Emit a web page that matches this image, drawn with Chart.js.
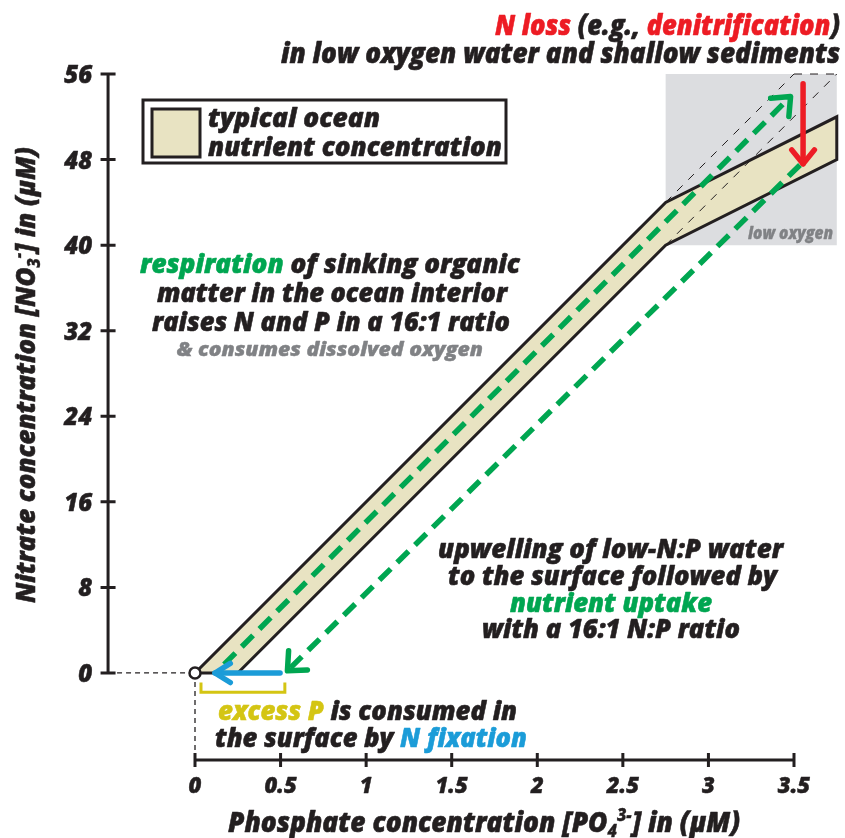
<!DOCTYPE html>
<html>
<head>
<meta charset="utf-8">
<title>Ocean N:P</title>
<script src="https://cdn.jsdelivr.net/npm/chart.js@4.4.1/dist/chart.umd.min.js"></script>
<style>
  html, body { margin: 0; padding: 0; background: #fff; }
  canvas { display: block; }
</style>
</head>
<body>
<canvas id="npChart" width="845" height="838"></canvas>
<script>
// --- values (x = PO4 uM, y = NO3 uM) ---
const xTicks = [0, 0.5, 1, 1.5, 2, 2.5, 3, 3.5];
const yTicks = [0, 8, 16, 24, 32, 40, 48, 56];

// typical ocean band
const bandPO4 = [0, 2.75, 3.75, 3.75, 2.75, 0.25, 0];
const bandNO3 = [0, 44, 52, 48, 40, 0, 0];

// low oxygen box
const lowOxyPO4 = [2.75, 3.75, 3.75, 2.75, 2.75];
const lowOxyNO3 = [40, 40, 56, 56, 40];

// 16:1 lines continuing the band edges
const guideUpperPO4 = [2.75, 3.5];
const guideUpperNO3 = [44, 56];
const guideLowerPO4 = [2.75, 3.75];
const guideLowerNO3 = [40, 56];
const guideTopPO4 = [3.5, 3.75];
const guideTopNO3 = [56, 56];

// process arrows (start, tip)
const respirationPO4 = [0.17, 3.48];
const respirationNO3 = [0.8, 53.9];
const upwellingPO4 = [3.535, 0.54];
const upwellingNO3 = [47.5, 0.2];
const nLossPO4 = [3.553, 3.553];
const nLossNO3 = [55.1, 47.6];
const nFixPO4 = [0.497, 0.117];
const nFixNO3 = [0, 0];

// excess P bracket
const excessPO4 = [0.035, 0.035, 0.525, 0.525];
const excessNO3 = [-0.9, -1.8, -1.8, -0.9];

// where the offset axes sit
const X_AXIS_AT = -8.13;   // NO3 value of the phosphate axis
const Y_AXIS_AT = -0.508;  // PO4 value of the nitrate axis

const INK = '#231f20', GREEN = '#00a651', RED = '#ed1c24', BLUE = '#1b9cd8',
      YELLOW = '#d4c513', GREY = '#808285', BAND = '#e8e3c2', LOWOXY = '#dcdde0';
const FONT = '"Open Sans", "Noto Sans", "DejaVu Sans", sans-serif';
const WEIGHT = 800;
const HEAVY = 0.55; // extra stroke (per 26px) to get closer to the heavy italic of the original

const pts = (xs, ys) => xs.map((x, i) => ({ x, y: ys[i] }));

function lineSet(label, xs, ys, extra) {
  return Object.assign({
    label, data: pts(xs, ys), showLine: true, fill: false,
    pointRadius: 0, borderColor: INK, borderWidth: 1, tension: 0
  }, extra);
}

function heavyText(ctx, t, x, y, color, size) {
  ctx.fillStyle = color;
  ctx.strokeStyle = color;
  ctx.lineWidth = HEAVY * size / 26;
  ctx.lineJoin = 'round';
  ctx.setLineDash([]);
  ctx.fillText(t, x, y);
  ctx.strokeText(t, x, y);
}

// draw one line of mixed-colour text, squeezed to width w
function richLine(ctx, segs, x, y, size, w) {
  let total = 0;
  const parts = segs.map(([t, c, o = {}]) => {
    const s = size * (o.scale || 1);
    ctx.font = `italic ${WEIGHT} ${s}px ${FONT}`;
    const pw = ctx.measureText(t).width;
    total += pw;
    return { t, c, s, pw, dy: o.dy || 0 };
  });
  const k = w ? w / total : 1;
  ctx.save();
  ctx.translate(x, y);
  ctx.scale(k, 1);
  ctx.textAlign = 'left';
  ctx.textBaseline = 'alphabetic';
  let cx = 0;
  parts.forEach(p => {
    ctx.font = `italic ${WEIGHT} ${p.s}px ${FONT}`;
    heavyText(ctx, p.t, cx, p.dy, p.c, p.s);
    cx += p.pw;
  });
  ctx.restore();
}

const notes = [
  { x: 495, y: 35, w: 345, size: 28, segs: [['N loss', RED], [' (e.g., ', INK], ['denitrification', RED], [')', INK]] },
  { x: 281, y: 63, w: 559, size: 28, segs: [['in low oxygen water and shallow sediments', INK]] },
  { x: 140, y: 273, w: 380, size: 26, segs: [['respiration', GREEN], [' of sinking organic', INK]] },
  { x: 157, y: 302, w: 350, size: 26, segs: [['matter in the ocean interior', INK]] },
  { x: 152, y: 331, w: 358, size: 26, segs: [['raises N and P in a 16:1 ratio', INK]] },
  { x: 177, y: 356, w: 306, size: 20, segs: [['& consumes dissolved oxygen', GREY]] },
  { x: 438, y: 558, w: 345, size: 26, segs: [['upwelling of low-N:P water', INK]] },
  { x: 448, y: 585, w: 329, size: 26, segs: [['to the surface followed by', INK]] },
  { x: 510, y: 612, w: 202, size: 26, segs: [['nutrient uptake', GREEN]] },
  { x: 482, y: 638, w: 258, size: 26, segs: [['with a 16:1 N:P ratio', INK]] },
  { x: 218, y: 720, w: 299, size: 26, segs: [['excess P', YELLOW], [' is consumed in', INK]] },
  { x: 215, y: 747, w: 312, size: 26, segs: [['the surface by ', INK], ['N fixation', BLUE]] },
  { x: 748, y: 239, w: 85, size: 17, segs: [['low oxygen', GREY]] }
];

// axes drawn away from the data origin, like the original figure
const offsetAxes = {
  id: 'offsetAxes',
  afterDatasetsDraw(chart) {
    const { ctx, scales: { x, y } } = chart;
    const ay = y.getPixelForValue(X_AXIS_AT);
    const ax = x.getPixelForValue(Y_AXIS_AT);
    ctx.save();
    ctx.setLineDash([]);
    ctx.strokeStyle = INK;
    ctx.lineWidth = 3;

    ctx.beginPath();
    ctx.moveTo(x.getPixelForValue(xTicks[0]) - 1.5, ay);
    ctx.lineTo(x.getPixelForValue(xTicks[xTicks.length - 1]) + 1.5, ay);
    ctx.moveTo(ax, y.getPixelForValue(yTicks[0]) + 1.5);
    ctx.lineTo(ax, y.getPixelForValue(yTicks[yTicks.length - 1]) - 1.5);
    xTicks.forEach(v => {
      const px = x.getPixelForValue(v);
      ctx.moveTo(px, ay - 7);
      ctx.lineTo(px, ay + 7);
    });
    yTicks.forEach(v => {
      const py = y.getPixelForValue(v);
      ctx.moveTo(ax - 7.5, py);
      ctx.lineTo(ax + 7.5, py);
    });
    ctx.stroke();

    ctx.textBaseline = 'alphabetic';
    ctx.font = `italic ${WEIGHT} 22px ${FONT}`;
    ctx.textAlign = 'center';
    xTicks.forEach(v => heavyText(ctx, String(v), x.getPixelForValue(v), ay + 33, INK, 22));
    ctx.font = `italic ${WEIGHT} 24px ${FONT}`;
    ctx.textAlign = 'right';
    yTicks.forEach(v => heavyText(ctx, String(v), ax - 16, y.getPixelForValue(v) + 9, INK, 24));

    // axis titles
    richLine(ctx, [
      ['Phosphate concentration [PO', INK],
      ['4', INK, { scale: 0.62, dy: 5 }],
      ['3-', INK, { scale: 0.62, dy: -11 }],
      ['] in (\u00b5M)', INK]
    ], 228, 832, 28, 512);

    ctx.save();
    ctx.translate(35, 603);
    ctx.rotate(-Math.PI / 2);
    richLine(ctx, [
      ['Nitrate concentration [NO', INK],
      ['3', INK, { scale: 0.62, dy: 5 }],
      ['-', INK, { scale: 0.62, dy: -11 }],
      ['] in (\u00b5M)', INK]
    ], 0, 0, 27, 456);
    ctx.restore();
    ctx.restore();
  }
};

// open chevron heads on the process arrows
const arrowHeads = {
  id: 'arrowHeads',
  afterDatasetsDraw(chart) {
    const ctx = chart.ctx;
    chart.data.datasets.forEach((ds, i) => {
      if (!ds.arrowHead) return;
      const el = chart.getDatasetMeta(i).data;
      const tip = el[el.length - 1], prev = el[el.length - 2];
      const back = Math.atan2(prev.y - tip.y, prev.x - tip.x);
      const { len, spread } = ds.arrowHead;
      const a = spread * Math.PI / 180;
      ctx.save();
      ctx.setLineDash([]);
      ctx.strokeStyle = ds.borderColor;
      ctx.lineWidth = ds.borderWidth;
      ctx.lineCap = 'round';
      ctx.lineJoin = 'round';
      ctx.beginPath();
      ctx.moveTo(tip.x + len * Math.cos(back + a), tip.y + len * Math.sin(back + a));
      ctx.lineTo(tip.x, tip.y);
      ctx.lineTo(tip.x + len * Math.cos(back - a), tip.y + len * Math.sin(back - a));
      ctx.stroke();
      ctx.restore();
    });
  }
};

// legend box and the annotation text
const annotations = {
  id: 'annotations',
  afterDraw(chart) {
    const ctx = chart.ctx;
    ctx.save();
    ctx.setLineDash([]);
    ctx.lineWidth = 3;
    ctx.strokeStyle = INK;
    ctx.fillStyle = '#fff';
    ctx.fillRect(143, 100, 363, 63);
    ctx.strokeRect(143, 100, 363, 63);
    ctx.fillStyle = BAND;
    ctx.fillRect(152, 109, 48, 48);
    ctx.strokeRect(152, 109, 48, 48);
    richLine(ctx, [['typical ocean', INK]], 208, 127, 26, 172);
    richLine(ctx, [['nutrient concentration', INK]], 208, 156, 26, 294);
    notes.forEach(n => richLine(ctx, n.segs, n.x, n.y, n.size, n.w));
    ctx.restore();
  }
};

new Chart(document.getElementById('npChart'), {
  type: 'scatter',
  data: {
    datasets: [
      lineSet('low oxygen', lowOxyPO4, lowOxyNO3, { fill: 'shape', backgroundColor: LOWOXY, borderWidth: 0, order: 10 }),
      lineSet('typical ocean nutrient concentration', bandPO4, bandNO3, { fill: 'shape', backgroundColor: BAND, borderWidth: 3, borderJoinStyle: 'miter', order: 8 }),
      lineSet('16:1 upper', guideUpperPO4, guideUpperNO3, { borderDash: [8, 8], order: 7 }),
      lineSet('16:1 lower', guideLowerPO4, guideLowerNO3, { borderDash: [8, 8], order: 7 }),
      lineSet('16:1 top', guideTopPO4, guideTopNO3, { borderDash: [8, 8], order: 7 }),
      lineSet('origin to NO3 axis', [Y_AXIS_AT, 0], [0, 0], { borderDash: [5, 4], borderWidth: 1.3, order: 9 }),
      lineSet('origin to PO4 axis', [0, 0], [0, X_AXIS_AT], { borderDash: [5, 4], borderWidth: 1.3, order: 9 }),
      lineSet('respiration', respirationPO4, respirationNO3, { borderColor: GREEN, borderWidth: 5.5, borderDash: [16, 9], order: 5, arrowHead: { len: 20, spread: 40 } }),
      lineSet('upwelling / uptake', upwellingPO4, upwellingNO3, { borderColor: GREEN, borderWidth: 5.5, borderDash: [16, 9], order: 5, arrowHead: { len: 20, spread: 42 } }),
      lineSet('N loss', nLossPO4, nLossNO3, { borderColor: RED, borderWidth: 5.5, borderCapStyle: 'round', order: 4, arrowHead: { len: 18, spread: 39 } }),
      lineSet('N fixation', nFixPO4, nFixNO3, { borderColor: BLUE, borderWidth: 5.5, borderCapStyle: 'round', order: 4, arrowHead: { len: 18, spread: 32 } }),
      lineSet('excess P', excessPO4, excessNO3, { borderColor: YELLOW, borderWidth: 3, order: 4 }),
      {
        label: 'origin', data: pts([0], [0]), showLine: false,
        pointRadius: 5.5, pointBorderWidth: 2.5, pointBackgroundColor: '#fff', pointBorderColor: INK, order: 1
      }
    ]
  },
  options: {
    responsive: false,
    animation: false,
    layout: { padding: 0, autoPadding: false },
    plugins: { legend: { display: false }, tooltip: { enabled: false } },
    scales: {
      x: { type: 'linear', min: -1.1394, max: 3.798, display: false },
      y: { type: 'linear', min: -15.43, max: 62.92, display: false }
    }
  },
  plugins: [offsetAxes, arrowHeads, annotations]
});
</script>
</body>
</html>
